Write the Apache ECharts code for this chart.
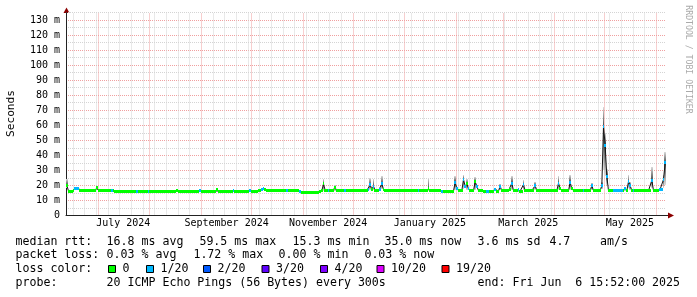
<!DOCTYPE html>
<html><head><meta charset="utf-8">
<script src="https://cdn.jsdelivr.net/npm/echarts@6/dist/echarts.min.js"></script>
<style>html,body{margin:0;padding:0;background:#fff}#c{width:697px;height:297px}</style>
</head><body><div id="c"></div><script>
// ---------------- DATA ----------------
const DAY = 86400000;
const START = Date.UTC(2024, 5, 11, 15, 52);   // 360 days before end
const SPAN_DAYS = 360;
const END = START + SPAN_DAYS * DAY;           // Fri Jun 6 15:52:00 2025

// daily median RTT (ms)
const median = [
20.0,16.3,16.3,16.3,16.4,18.0,18.0,17.8,16.5,16.5,
16.5,16.5,16.5,16.5,16.5,16.5,16.5,16.6,18.5,16.6,
16.5,16.5,16.5,16.5,16.5,16.5,16.5,16.8,16.4,16.0,
16.0,15.9,16.0,16.0,15.9,16.0,16.0,16.1,16.0,15.9,
16.0,16.0,16.2,16.0,16.0,15.9,16.0,16.0,16.0,16.2,
16.0,16.0,15.9,16.0,16.0,16.0,16.0,16.1,16.0,16.0,
16.0,16.1,16.2,16.3,16.3,16.3,16.4,16.3,16.3,16.3,
16.3,16.2,16.3,16.3,16.2,16.3,16.3,16.3,16.2,16.3,
16.5,16.3,16.3,16.2,16.3,16.3,16.3,16.2,16.3,16.3,
17.3,16.3,16.2,16.2,16.3,16.3,16.2,16.3,16.3,16.2,
16.5,16.3,16.3,16.2,16.3,16.3,16.2,15.9,16.2,16.3,
16.4,16.3,16.3,16.3,16.3,16.4,16.8,17.5,17.8,17.2,
16.6,16.5,16.5,16.5,16.4,16.5,16.5,16.5,16.4,16.5,
16.5,16.5,16.6,16.5,16.5,16.4,16.5,16.5,16.5,16.4,
16.0,15.5,15.4,15.4,15.3,15.4,15.4,15.5,15.4,15.4,
15.5,15.5,16.3,16.5,21.0,16.8,16.5,16.6,16.5,16.5,
16.5,18.5,16.6,16.5,16.5,16.5,16.5,16.6,16.5,16.5,
16.5,16.5,16.5,16.5,16.5,16.5,16.5,16.5,16.5,16.5,
16.6,17.5,20.5,17.5,19.5,16.6,16.5,16.5,17.5,21.0,
17.5,16.5,16.5,16.5,16.5,16.5,16.5,16.5,16.5,16.5,
16.5,16.5,16.5,16.5,16.5,16.5,16.5,16.5,16.5,16.5,
16.5,16.6,16.5,16.5,16.5,16.5,16.5,18.0,16.5,16.5,
16.5,16.5,16.5,16.5,16.4,16.3,15.8,15.8,15.7,15.8,
15.8,15.9,16.3,22.0,18.0,16.5,16.5,16.5,24.0,19.5,
21.0,18.0,16.5,16.5,16.5,22.5,19.5,16.5,16.5,16.5,
16.2,16.2,16.3,16.3,16.0,16.0,16.1,17.4,16.3,16.3,
19.5,16.5,16.5,16.5,16.5,16.5,17.5,21.5,16.5,16.5,
16.5,17.5,16.3,16.3,20.5,16.5,16.5,16.5,16.5,16.5,
16.5,20.0,16.5,16.5,16.5,16.5,16.5,16.5,16.5,16.5,
16.5,16.5,16.5,16.5,16.5,21.5,18.0,16.5,16.5,16.5,
16.5,16.5,22.0,18.0,16.5,16.5,16.5,16.5,16.5,16.5,
16.6,16.5,16.5,16.5,16.5,20.0,16.5,16.5,16.5,16.5,
16.5,20.0,59.5,46.5,26.0,16.5,16.5,16.5,16.6,16.6,
16.6,16.6,16.6,16.6,16.5,18.0,16.5,22.5,20.0,16.5,
16.6,16.5,16.5,16.5,16.5,16.5,16.5,16.5,16.5,16.5,
16.5,23.5,16.5,16.5,16.5,16.5,17.5,17.5,24.0,35.0
];

// daily lost pings (out of 20)
const loss = [
0,0,0,0,0,1,1,1,0,0, 0,0,0,0,0,0,0,0,0,0, 0,0,0,0,0,0,0,1,0,0,
0,0,0,0,0,0,0,0,0,0, 0,0,1,0,0,0,0,0,0,1, 0,0,0,0,0,0,0,0,0,0,
0,0,0,0,0,0,0,0,0,0, 0,0,0,0,0,0,0,0,0,0, 1,0,0,0,0,0,0,0,0,0,
0,0,0,0,0,0,0,0,0,0, 1,0,0,0,0,0,0,0,0,0, 1,0,0,0,0,0,0,1,1,0,
0,0,0,0,0,0,0,0,0,0, 0,0,1,0,0,0,0,0,0,0, 1,0,0,0,0,0,0,0,0,0,
0,0,0,0,0,0,0,1,0,0, 0,0,0,0,0,0,0,1,0,0, 0,0,0,0,0,0,0,0,0,0,
0,1,1,0,1,0,0,0,1,1, 0,0,0,0,0,0,0,0,0,0, 0,0,0,0,0,0,0,0,0,0,
0,1,0,0,0,0,0,0,0,0, 0,0,0,0,0,1,0,0,0,0, 0,0,0,1,1,0,0,0,1,1,
0,1,0,0,0,0,1,0,0,0, 0,0,1,1,0,0,0,1,0,0, 1,0,0,0,0,0,0,1,0,0,
0,1,0,0,1,0,0,0,0,0, 0,1,0,0,0,0,0,0,0,0, 0,0,0,0,0,1,0,0,0,0,
0,0,1,0,0,0,0,0,0,0, 1,0,0,0,0,1,0,0,0,0, 0,1,1,1,1,0,0,0,1,1,
1,1,1,1,0,1,0,1,1,0, 1,0,0,0,0,0,0,0,0,0, 0,1,0,0,0,0,1,1,1,1
];

// visible smoke (ping spread) on individual days
const smokeDays = [0,18,154,161,182,184,189,217,233,238,240,245,260,267,274,281,295,302,315,321,322,323,324,335,337,338,351,358,359];
const smokeLow  = [18,17,16.5,16.5,17,17,17.5,16.5,17,17.5,17,17,17,17,17,17,17,17,17,17.5,30,26,20,16.5,18,17,18,18,20];
const smokeHigh = [24,19.5,24,20,25,24,26,25,26,27,24,25.5,21,26,23.5,22.5,26,27,21.5,22,72,55,31,19,27,22,32,27,42];

// x-axis labels (placed mid-month)
const monthLabels = ['July 2024','September 2024','November 2024','January 2025','March 2025','May 2025'];
const monthLabelDates = [[2024,6,16],[2024,8,16],[2024,10,16],[2025,0,16],[2025,2,16],[2025,4,16]];

// y-axis
const yMin = 0, yMax = 135, yStep = 5;

// legend / statistics
const rttTitle = 'median rtt:';
const rttStats = ['16.8 ms avg','59.5 ms max','15.3 ms min','35.0 ms now','3.6 ms sd','4.7','am/s'];
const lossTitle = 'packet loss:';
const lossStats = ['0.03 % avg','1.72 % max','0.00 % min','0.03 % now'];
const colorTitle = 'loss color:';
const lossLegend = ['0','1/20','2/20','3/20','4/20','10/20','19/20'];
const lossColors = ['#00ff00','#00b8ff','#0059ff','#5e00ff','#7e00ff','#dd00ff','#ff0000'];
const probeTitle = 'probe:';
const probeText = '20 ICMP Echo Pings (56 Bytes) every 300s';
const endText = 'end: Fri Jun  6 15:52:00 2025';
const yTitle = 'Seconds';
const watermark = 'RRDTOOL / TOBI OETIKER';

// ---------------- LAYOUT ----------------
const FONT = 'DejaVu Sans Mono';
const FS = 11.6;      // legend font
const AFS = 10;       // axis font
const GL = 66, GR = 31, GT = 12.5, GB = 81.5;
const rttX = [106.6,199.4,292.6,384.4,477.6,549.4,600];
const lossX = [106.6,193.4,278.6,364.4];
const squareX = [108,146,203,261.5,320,376.5,441.5];
const rowY = [241.5,255.2,269,282.7];
const BAND = 0.95; // half height of loss-colour band (ms)

function lossIndex(n){ if(n<=0) return 0; if(n<=3) return n; if(n<10) return 4; if(n<19) return 5; return 6; }

// build series data
const lineData = median.map((v,i)=>[START+(i+0.5)*DAY, v]);
const bandData = median.map((v,i)=>[START+i*DAY, START+(i+1)*DAY, v, loss[i]]);
const smokeData = smokeDays.map((d,k)=>[START+d*DAY, START+(d+1)*DAY, smokeLow[k], median[d], smokeHigh[k]]);

// grid lines (month starts red, Sundays grey)
const gridData = [];
const monthStarts = [];
for (let y=2024, m=6; ; m++) { if (m>11){m=0;y++;} const t=Date.UTC(y,m,1); if (t>END) break; monthStarts.push(t); gridData.push([t,1]); }
for (let t=Date.UTC(2024,5,16); t<END; t+=7*DAY) { if (!monthStarts.includes(t)) gridData.push([t,0]); }

const labelTimes = monthLabelDates.map(d=>Date.UTC(d[0],d[1],d[2]));

const chart = echarts.init(document.getElementById('c'), null, {renderer:'canvas', width:697, height:297});

const graphics = [];
function txt(x,y,s,extra){ graphics.push(Object.assign({type:'text', x:x, y:y, silent:true, style:{text:s, fontFamily:FONT, fontSize:FS, fill:'#000', align:'left', verticalAlign:'middle'}}, extra||{})); }
txt(15.5,rowY[0],rttTitle);
rttStats.forEach((s,i)=>txt(rttX[i],rowY[0],s));
txt(15.5,rowY[1],lossTitle);
lossStats.forEach((s,i)=>txt(lossX[i],rowY[1],s));
txt(15.5,rowY[2],colorTitle);
lossLegend.forEach((s,i)=>{
  graphics.push({type:'rect', silent:true, shape:{x:squareX[i]+0.5, y:rowY[2]-3.5, width:7, height:7}, style:{fill:lossColors[i], stroke:'#000', lineWidth:1}});
  txt(squareX[i]+14.6, rowY[2], s);
});
txt(15.5,rowY[3],probeTitle);
txt(106.6,rowY[3],probeText);
txt(477.6,rowY[3],endText);
graphics.push({type:'text', x:11, y:113.5, rotation:Math.PI/2, silent:true, style:{text:yTitle, fontFamily:FONT, fontSize:11.2, fill:'#000', align:'center', verticalAlign:'middle'}});
graphics.push({type:'text', x:688.5, y:59.5, rotation:-Math.PI/2, silent:true, style:{text:watermark, fontFamily:FONT, fontSize:8.2, fill:'#aaaaaa', align:'center', verticalAlign:'middle'}});
// axis extensions and arrows
graphics.push({type:'line', silent:true, shape:{x1:66.5,y1:13,x2:66.5,y2:9}, style:{stroke:'#222', lineWidth:1}});
graphics.push({type:'line', silent:true, shape:{x1:666,y1:215.5,x2:669,y2:215.5}, style:{stroke:'#222', lineWidth:1}});
graphics.push({type:'polygon', silent:true, shape:{points:[[63.5,13],[69.5,13],[66.5,7.5]]}, style:{fill:'#8b0000'}});
graphics.push({type:'polygon', silent:true, shape:{points:[[668,212.5],[668,218.5],[674,215.5]]}, style:{fill:'#8b0000'}});

const option = {
  animation:false,
  backgroundColor:'#ffffff',
  grid:{left:GL, right:GR, top:GT, bottom:GB, containLabel:false},
  xAxis:{type:'value', min:START, max:END,
    axisLine:{show:true, lineStyle:{color:'#222', width:1}},
    axisTick:{show:false}, splitLine:{show:false},
    axisLabel:{customValues:labelTimes, margin:3, fontFamily:FONT, fontSize:AFS, color:'#000',
      formatter:(v)=>{ const k=labelTimes.indexOf(v); return k>=0?monthLabels[k]:''; }}
  },
  yAxis:{type:'value', min:yMin, max:yMax, interval:yStep,
    axisLine:{show:true, lineStyle:{color:'#222', width:1}},
    axisTick:{show:false},
    axisLabel:{margin:6, fontFamily:FONT, fontSize:AFS, color:'#000',
      formatter:(v)=> (v%10!==0) ? '' : (v===0 ? '0' : v+' m')},
    splitLine:{show:true, lineStyle:{color:['#f0a0a0','#d4d4d4'], width:1, type:[1,1]}}
  },
  graphic:{elements:graphics},
  series:[
    {type:'custom', name:'grid', z:1, clip:false, silent:true, data:gridData, encode:{x:0},
      renderItem:(params, api)=>{
        const t = api.value(0), major = api.value(1)===1;
        const pb = api.coord([t, yMin]), pt = api.coord([t, yMax]);
        const x = Math.floor(pb[0])+0.5;
        return {type:'line', shape:{x1:x, y1:pb[1]-1, x2:x, y2:pt[1]}, style:{stroke: major?'#f0a0a0':'#d4d4d4', lineWidth:1, lineDash:[1,1]}};
      }},
    {type:'custom', name:'smoke', z:2, clip:true, silent:true, data:smokeData, encode:{x:[0,1], y:[2,3,4]},
      renderItem:(params, api)=>{
        const t0=api.value(0), t1=api.value(1), lo=api.value(2), me=api.value(3), hi=api.value(4);
        const a = api.coord([t0, hi]), b = api.coord([t1, me]), c = api.coord([t1, lo]);
        const x1 = Math.round(a[0]), x2 = Math.max(x1+1, Math.round(b[0]));
        const yh = Math.round(a[1]), ym = Math.round(b[1]), yl = Math.round(c[1]);
        return {type:'group', children:[
          {type:'rect', shape:{x:x1, y:yh, width:x2-x1, height:Math.max(0,ym-yh)},
            style:{fill:new echarts.graphic.LinearGradient(0,0,0,1,[{offset:0,color:'#dcdcdc'},{offset:1,color:'#4a4a4a'}])}},
          {type:'rect', shape:{x:x1, y:ym, width:x2-x1, height:Math.max(0,yl-ym)},
            style:{fill:new echarts.graphic.LinearGradient(0,0,0,1,[{offset:0,color:'#4a4a4a'},{offset:1,color:'#dcdcdc'}])}}
        ]};
      }},
    {type:'line', name:'median', z:3, data:lineData, showSymbol:false, symbol:'none', silent:true,
      lineStyle:{color:'#151515', width:1}},
    {type:'custom', name:'loss', z:4, clip:true, silent:true, data:bandData, encode:{x:[0,1], y:2},
      renderItem:(params, api)=>{
        const t0=api.value(0), t1=api.value(1), me=api.value(2), ls=api.value(3);
        const a = api.coord([t0, me]), b = api.coord([t1, me]);
        const x1 = Math.round(a[0]), x2 = Math.round(b[0]);
        const yc = a[1];
        const h = BAND*2*(api.size([0,1])[1]);
        return {type:'rect', shape:{x:x1, y:Math.round(yc-h/2), width:Math.max(1,x2-x1), height:Math.round(h)},
          style:{fill:lossColors[lossIndex(ls)]}};
      }}
  ]
};
chart.setOption(option);
</script></body></html>
